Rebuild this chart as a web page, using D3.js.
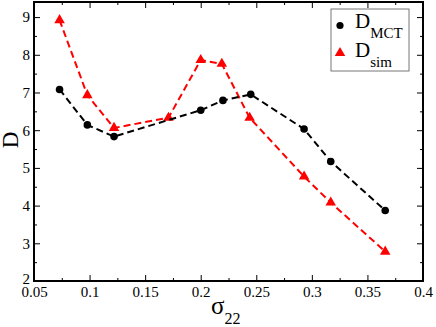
<!DOCTYPE html>
<html>
<head>
<meta charset="utf-8">
<script src="https://cdn.jsdelivr.net/npm/d3@7"></script>
<style>
  body { margin: 0; background: #fff; }
  text { font-family: "Liberation Serif", serif; }
</style>
</head>
<body>
<div id="chart"></div>
<script>
// data
var sigmaMCT = [0.073, 0.098, 0.122, 0.200, 0.220, 0.245, 0.293, 0.317, 0.366];
var dMCT     = [7.08, 6.14, 5.83, 6.53, 6.79, 6.95, 6.03, 5.17, 3.87];
var sigmaSim = [0.073, 0.098, 0.122, 0.171, 0.200, 0.219, 0.244, 0.293, 0.317, 0.366];
var dSim     = [8.92, 6.93, 6.06, 6.33, 7.86, 7.76, 6.33, 4.77, 4.08, 2.78];
var xTicks = [0.05, 0.1, 0.15, 0.2, 0.25, 0.3, 0.35, 0.4];
var xMinor = [0.075, 0.125, 0.175, 0.225, 0.275, 0.325, 0.375];
var yTicks = [2, 3, 4, 5, 6, 7, 8, 9];
var yMinor = [2.5, 3.5, 4.5, 5.5, 6.5, 7.5, 8.5];

const W = 436, H = 327;
const L = 34, T = 2, R = 423, B = 281;

var svg = d3.select('#chart').append('svg')
            .attr('width', W)
            .attr('height', H);

var x = d3.scaleLinear().domain([0.05, 0.4]).range([L, R]);
var y = d3.scaleLinear().domain([2, 9.4]).range([B, T]);

function fmt(d) { return String(+d.toFixed(2)); }

// axes, ticks pointing inward on all four sides
function styleAxis(g) {
  g.attr('font-family', null);
  g.select('.domain').remove();
  g.selectAll('line').attr('stroke', '#000').attr('stroke-width', 1);
  g.selectAll('text').attr('font-size', 15).attr('fill', '#000');
}

svg.append('g').attr('transform', 'translate(0,' + B + ')')
   .call(d3.axisBottom(x).tickValues(xTicks).tickSize(-6).tickPadding(5).tickFormat(fmt))
   .call(styleAxis);
svg.append('g').attr('transform', 'translate(0,' + B + ')')
   .call(d3.axisBottom(x).tickValues(xMinor).tickSize(-3).tickFormat(''))
   .call(styleAxis);
svg.append('g').attr('transform', 'translate(0,' + T + ')')
   .call(d3.axisTop(x).tickValues(xTicks).tickSize(-6).tickFormat(''))
   .call(styleAxis);
svg.append('g').attr('transform', 'translate(0,' + T + ')')
   .call(d3.axisTop(x).tickValues(xMinor).tickSize(-3).tickFormat(''))
   .call(styleAxis);

var yAxis = svg.append('g').attr('transform', 'translate(' + L + ',0)')
   .call(d3.axisLeft(y).tickValues(yTicks).tickSize(-6).tickPadding(4).tickFormat(d3.format('d')))
   .call(styleAxis);
// lowest label sits just above the "0.05", as in the original
yAxis.selectAll('text').filter(d => d === 2).attr('y', -2);
svg.append('g').attr('transform', 'translate(' + L + ',0)')
   .call(d3.axisLeft(y).tickValues(yMinor).tickSize(-3).tickFormat(''))
   .call(styleAxis);
svg.append('g').attr('transform', 'translate(' + R + ',0)')
   .call(d3.axisRight(y).tickValues(yTicks).tickSize(-6).tickFormat(''))
   .call(styleAxis);
svg.append('g').attr('transform', 'translate(' + R + ',0)')
   .call(d3.axisRight(y).tickValues(yMinor).tickSize(-3).tickFormat(''))
   .call(styleAxis);

// frame
svg.append('rect')
   .attr('x', L).attr('y', T)
   .attr('width', R - L).attr('height', B - T)
   .attr('fill', 'none')
   .attr('stroke', '#000')
   .attr('stroke-width', 2);

var line = d3.line().x(d => x(d[0])).y(d => y(d[1]));
var simPts = sigmaSim.map((s, i) => [s, dSim[i]]);
var mctPts = sigmaMCT.map((s, i) => [s, dMCT[i]]);

// simulation series (drawn first, MCT line lies on top)
svg.append('path').datum(simPts)
   .attr('d', line)
   .attr('fill', 'none')
   .attr('stroke', '#ff0000')
   .attr('stroke-width', 2)
   .attr('stroke-dasharray', '7,4');
svg.selectAll('path.sim').data(simPts).enter()
   .append('path')
   .classed('sim', true)
   .attr('d', d3.symbol().type(d3.symbolTriangle).size(48))
   .attr('transform', d => 'translate(' + x(d[0]) + ',' + y(d[1]) + ')')
   .attr('fill', '#ff0000');

// MCT series
svg.append('path').datum(mctPts)
   .attr('d', line)
   .attr('fill', 'none')
   .attr('stroke', '#000')
   .attr('stroke-width', 2)
   .attr('stroke-dasharray', '7,4');
svg.selectAll('circle.mct').data(mctPts).enter()
   .append('circle')
   .classed('mct', true)
   .attr('cx', d => x(d[0]))
   .attr('cy', d => y(d[1]))
   .attr('r', 3.8)
   .attr('fill', '#000');

// axis titles
svg.append('text')
   .attr('transform', 'translate(18,140) rotate(-90)')
   .attr('text-anchor', 'middle')
   .attr('font-size', 23)
   .text('D');

var xt = svg.append('text').attr('x', 211).attr('y', 314).attr('font-size', 25);
xt.append('tspan').text('σ');
xt.append('tspan').attr('font-size', 16).attr('dy', 10).text('22');

// legend
var lg = svg.append('g');
lg.append('rect')
  .attr('x', 331).attr('y', 9)
  .attr('width', 78).attr('height', 62)
  .attr('fill', '#fff')
  .attr('stroke', '#777')
  .attr('stroke-width', 1);
lg.append('circle').attr('cx', 340).attr('cy', 25.5).attr('r', 3.6).attr('fill', '#000');
lg.append('path')
  .attr('d', d3.symbol().type(d3.symbolTriangle).size(48))
  .attr('transform', 'translate(340,53)')
  .attr('fill', '#ff0000');

var t1 = lg.append('text').attr('x', 355).attr('y', 28.3).attr('font-size', 21);
t1.append('tspan').text('D');
t1.append('tspan').attr('font-size', 15).attr('dy', 10).text('MCT');
var t2 = lg.append('text').attr('x', 355).attr('y', 56.5).attr('font-size', 21);
t2.append('tspan').text('D');
t2.append('tspan').attr('font-size', 15).attr('dy', 10).text('sim');
</script>
</body>
</html>
